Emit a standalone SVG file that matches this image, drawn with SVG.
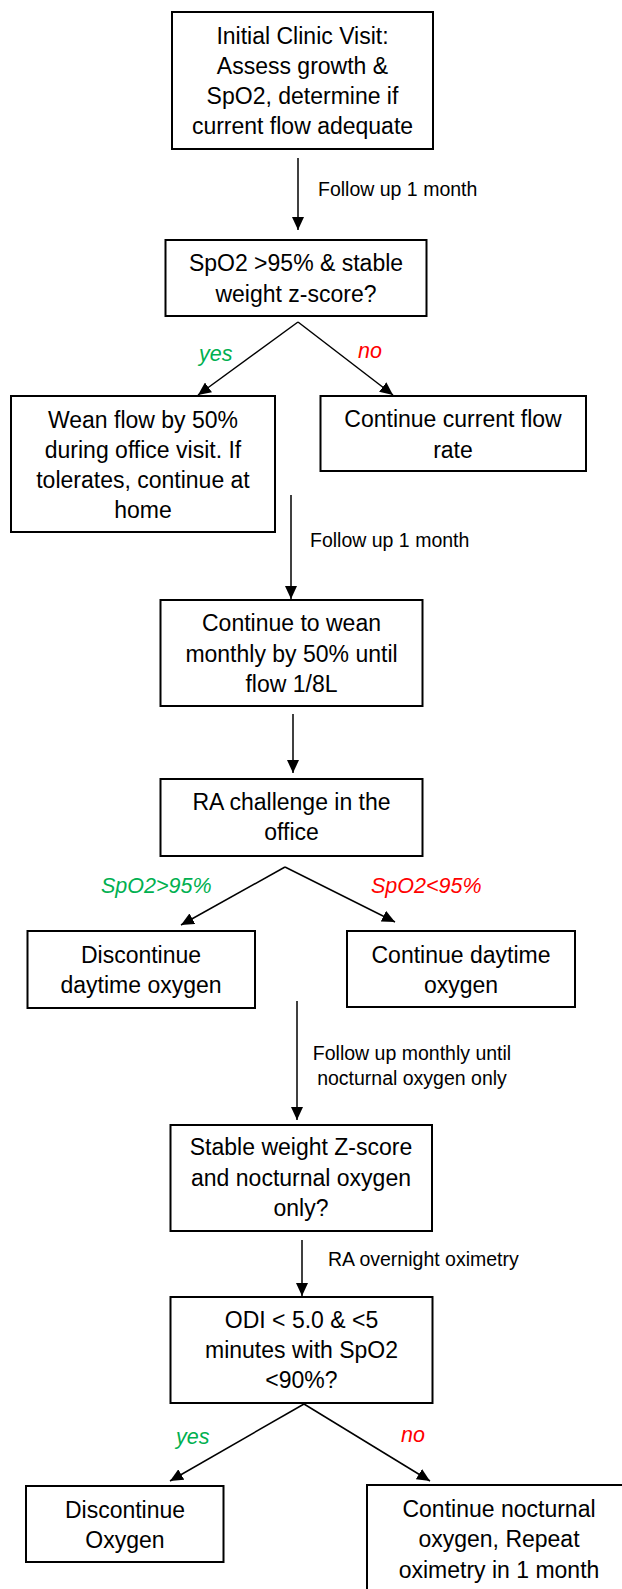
<svg xmlns="http://www.w3.org/2000/svg" width="622" height="1589" viewBox="0 0 622 1589">
<style>
.box{fill:#fff;stroke:#000;stroke-width:2}
.t{font-family:"Liberation Sans",Arial,sans-serif;font-size:23px;fill:#000;text-anchor:middle}
.lbl{font-family:"Liberation Sans",Arial,sans-serif;font-size:19.5px;fill:#000}
.yes{font-family:"Liberation Sans",Arial,sans-serif;font-size:21.5px;font-style:italic;fill:#00B050}
.no{font-family:"Liberation Sans",Arial,sans-serif;font-size:21.5px;font-style:italic;fill:#FF0000}
.c{stroke:#000;stroke-width:1.5;fill:none;marker-end:url(#ah)}
</style>
<defs>
<marker id="ah" markerUnits="userSpaceOnUse" markerWidth="13" markerHeight="12" refX="13" refY="6" orient="auto">
<path d="M0,0 L13,6 L0,12 z" fill="#000"/>
</marker>
</defs>
<rect width="622" height="1589" fill="#fff"/>
<g id="connectors">
<line class="c" x1="298" y1="158" x2="298" y2="230"/>
<line class="c" x1="298" y1="322" x2="198" y2="395"/>
<line class="c" x1="298" y1="322" x2="393" y2="395"/>
<line class="c" x1="291" y1="495" x2="291" y2="599"/>
<line class="c" x1="293" y1="714" x2="293" y2="773"/>
<line class="c" x1="285" y1="867" x2="181" y2="925"/>
<line class="c" x1="285" y1="867" x2="395" y2="922"/>
<line class="c" x1="297" y1="1001" x2="297" y2="1120"/>
<line class="c" x1="302" y1="1240" x2="302" y2="1296"/>
<line class="c" x1="304" y1="1404" x2="170" y2="1481"/>
<line class="c" x1="304" y1="1404" x2="430" y2="1481"/>
<text class="lbl" x="318" y="196">Follow up 1 month</text>
<text class="yes" x="199" y="361">yes</text>
<text class="no" x="358" y="358">no</text>
<text class="lbl" x="310" y="547">Follow up 1 month</text>
<text class="yes" x="101" y="893">SpO2&gt;95%</text>
<text class="no" x="371" y="893">SpO2&lt;95%</text>
<text class="lbl" x="412" y="1060" text-anchor="middle">Follow up monthly until</text>
<text class="lbl" x="412" y="1085" text-anchor="middle">nocturnal oxygen only</text>
<text class="lbl" x="328" y="1266">RA overnight oximetry</text>
<text class="yes" x="176" y="1444">yes</text>
<text class="no" x="401" y="1442">no</text>
</g>
<g id="n1">
<rect class="box" x="172" y="12" width="261" height="137"/>
<text class="t" x="302.5" y="44">Initial Clinic Visit:</text>
<text class="t" x="302.5" y="74">Assess growth &amp;</text>
<text class="t" x="302.5" y="104">SpO2, determine if</text>
<text class="t" x="302.5" y="134">current flow adequate</text>
</g>
<g id="n2">
<rect class="box" x="165.5" y="240" width="261" height="76"/>
<text class="t" x="296" y="271">SpO2 &gt;95% &amp; stable</text>
<text class="t" x="296" y="302">weight z-score?</text>
</g>
<g id="n3">
<rect class="box" x="11" y="396" width="264" height="136"/>
<text class="t" x="143" y="428">Wean flow by 50%</text>
<text class="t" x="143" y="458">during office visit. If</text>
<text class="t" x="143" y="488">tolerates, continue at</text>
<text class="t" x="143" y="518">home</text>
</g>
<g id="n4">
<rect class="box" x="320.5" y="396" width="265.5" height="75"/>
<text class="t" x="453" y="427">Continue current flow</text>
<text class="t" x="453" y="458">rate</text>
</g>
<g id="n5">
<rect class="box" x="160.5" y="600" width="262" height="106"/>
<text class="t" x="291.5" y="631">Continue to wean</text>
<text class="t" x="291.5" y="662">monthly by 50% until</text>
<text class="t" x="291.5" y="692">flow 1/8L</text>
</g>
<g id="n6">
<rect class="box" x="160.5" y="779" width="262" height="77"/>
<text class="t" x="291.5" y="810">RA challenge in the</text>
<text class="t" x="291.5" y="840">office</text>
</g>
<g id="n7">
<rect class="box" x="27.5" y="931" width="227.5" height="77"/>
<text class="t" x="141" y="962.5">Discontinue</text>
<text class="t" x="141" y="993">daytime oxygen</text>
</g>
<g id="n8">
<rect class="box" x="347" y="931" width="228" height="76"/>
<text class="t" x="461" y="962.5">Continue daytime</text>
<text class="t" x="461" y="993">oxygen</text>
</g>
<g id="n9">
<rect class="box" x="170.5" y="1125" width="261.5" height="106"/>
<text class="t" x="301" y="1155">Stable weight Z-score</text>
<text class="t" x="301" y="1186">and nocturnal oxygen</text>
<text class="t" x="301" y="1216">only?</text>
</g>
<g id="n10">
<rect class="box" x="170.5" y="1297" width="262" height="106"/>
<text class="t" x="301.5" y="1328">ODI &lt; 5.0 &amp; &lt;5</text>
<text class="t" x="301.5" y="1358">minutes with SpO2</text>
<text class="t" x="301.5" y="1388">&lt;90%?</text>
</g>
<g id="n11">
<rect class="box" x="26" y="1486" width="197.5" height="76"/>
<text class="t" x="125" y="1518">Discontinue</text>
<text class="t" x="125" y="1548">Oxygen</text>
</g>
<g id="n12">
<rect class="box" x="367" y="1485" width="270" height="120"/>
<text class="t" x="499" y="1517">Continue nocturnal</text>
<text class="t" x="499" y="1547">oxygen, Repeat</text>
<text class="t" x="499" y="1578">oximetry in 1 month</text>
</g>
</svg>
